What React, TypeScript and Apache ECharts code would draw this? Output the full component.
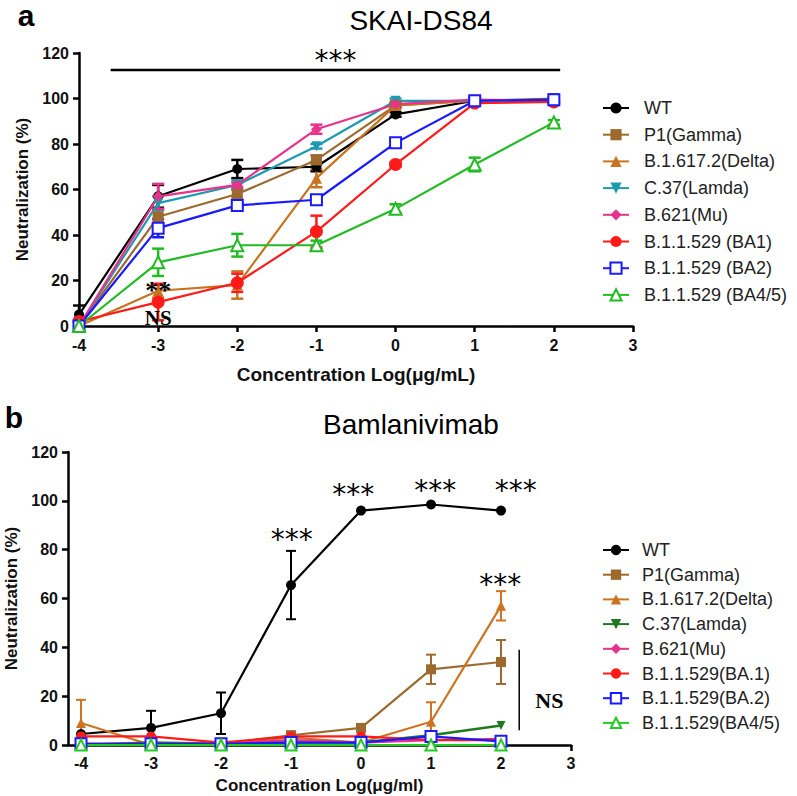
import React, { useEffect, useRef } from 'react';
import * as echarts from 'echarts';

const SANS = '"Liberation Sans", Arial, Helvetica, sans-serif';
const SERIF = '"Liberation Serif", "Times New Roman", serif';

// concentrations (log µg/mL)
const CONC = [-4, -3, -2, -1, 0, 1, 2];
const X_TICKS = [-4, -3, -2, -1, 0, 1, 2, 3];

// ---------- Panel a : SKAI-DS84 ----------
const A_NAMES = ['WT', 'P1(Gamma)', 'B.1.617.2(Delta)', 'C.37(Lamda)', 'B.621(Mu)', 'B.1.1.529 (BA1)', 'B.1.1.529 (BA2)', 'B.1.1.529 (BA4/5)'];
const A_WT = [5, 57, 69, 70, 93, 99, 99];
const A_WT_ERR = [4, 5, 4, 2, 1, 1, 1];
const A_P1 = [0, 48, 58, 73, 97, 99, 100];
const A_P1_ERR = [0, 3, 2, 2, 1, 1, 1];
const A_DELTA = [0, 15.5, 18, 65, 97, 99, 99];
const A_DELTA_ERR = [0, 3, 6, 4, 1, 1, 1];
const A_LAMDA = [0, 54, 62, 79, 99, 99, 99];
const A_LAMDA_ERR = [0, 3, 2, 1, 1, 1, 1];
const A_MU = [0, 57, 62, 86.5, 97.5, 99.5, 99];
const A_MU_ERR = [0, 5.5, 1, 2, 1, 1, 1];
const A_BA1 = [2, 10.5, 19, 41.5, 71, 98, 98.5];
const A_BA1_ERR = [1, 8, 4, 7, 1, 1, 1];
const A_BA2 = [0, 43, 53, 55.5, 80.5, 99, 99.5];
const A_BA2_ERR = [0, 4, 1, 1, 1, 1, 1];
const A_BA45 = [0, 28, 35.5, 35.5, 51.5, 71, 89.5];
const A_BA45_ERR = [0, 6, 5, 2, 2, 3, 1];

// ---------- Panel b : Bamlanivimab ----------
const B_NAMES = ['WT', 'P1(Gamma)', 'B.1.617.2(Delta)', 'C.37(Lamda)', 'B.621(Mu)', 'B.1.1.529(BA.1)', 'B.1.1.529(BA.2)', 'B.1.1.529(BA4/5)'];
const B_WT = [4.5, 7, 13, 65.5, 96, 98.5, 96];
const B_WT_ERR = [0, 7, 8.5, 14, 0, 0, 0];
const B_P1 = [0.5, 0.5, 0.5, 4, 7, 31, 34];
const B_P1_ERR = [0, 0, 0, 1.5, 1, 6, 9];
const B_DELTA = [9, 0, 0.5, 3, 1, 9.5, 57];
const B_DELTA_ERR = [9.5, 0, 0, 1, 0, 8, 6];
const B_LAMDA = [0, 1, 0.5, 1, 1, 4, 8];
const B_MU = [0.5, 0.5, 0.5, 2, 1, 2, 2.5];
const B_BA1 = [3.5, 3.5, 1, 3.5, 3.5, 2, 2];
const B_BA2 = [0.5, 0.5, 0.5, 1, 1, 3.5, 1.5];
const B_BA45 = [0, 0, 0, 0, 0, 0, 0];

// annotations
const A_STAR_X = [-0.76];
const A_STAR_Y = [120];
const A_STAR_TEXT = ['***'];
const A_SIG_LINE = [[-3.6, 112.5, 2.08, 112.5]];
const A_DSTAR_X = [-3];
const A_DSTAR_Y = [17];
const A_DSTAR_TEXT = ['**'];
const A_NS_X = [-3];
const A_NS_Y = [4.8];
const A_NS_TEXT = ['NS'];

const B_STAR_X = [-0.99, -0.11, 1.06, 2.21, 1.99];
const B_STAR_Y = [87.2, 105.3, 107.3, 107.3, 68.4];
const B_STAR_TEXT = ['***', '***', '***', '***', '***'];
const B_NS_LINE = [[2.26, 6, 2.26, 39]];
const B_NOTE_X = [2.69];
const B_NOTE_Y = [18.4];
const B_NOTE_TEXT = ['NS'];

const pts = (vals: number[]) => CONC.map((x, i) => [x, vals[i]]);

function lineSeries(name: string, vals: number[], color: string, symbol: string, size: number, extra: any = {}) {
  const empty = symbol.startsWith('empty');
  return {
    type: 'line',
    name,
    data: pts(vals),
    symbol,
    symbolSize: size,
    symbolRotate: extra.rotate || 0,
    showSymbol: true,
    itemStyle: { color, borderColor: color, borderWidth: empty ? 2.5 : 0 },
    lineStyle: { color, width: extra.lw || 2.2 },
    z: extra.z || 3,
    silent: true,
  };
}

function errSeries(vals: number[], errs: number[], color: string, cap: number, lw: number) {
  const data: number[][] = [];
  CONC.forEach((x, i) => {
    if (errs[i] > 0) data.push([x, vals[i] - errs[i], vals[i] + errs[i]]);
  });
  return {
    type: 'custom',
    silent: true,
    data,
    encode: { x: 0, y: [1, 2] },
    z: 2,
    renderItem: (params: any, api: any) => {
      const x = api.value(0);
      const a = api.coord([x, api.value(1)]);
      const b = api.coord([x, api.value(2)]);
      const st = { stroke: color, lineWidth: lw };
      return {
        type: 'group',
        children: [
          { type: 'line', shape: { x1: a[0], y1: a[1], x2: b[0], y2: b[1] }, style: st },
          { type: 'line', shape: { x1: a[0] - cap, y1: a[1], x2: a[0] + cap, y2: a[1] }, style: st },
          { type: 'line', shape: { x1: b[0] - cap, y1: b[1], x2: b[0] + cap, y2: b[1] }, style: st },
        ],
      };
    },
  };
}

function textSeries(xs: number[], ys: number[], texts: string[], font: string, dy: number) {
  return {
    type: 'custom',
    silent: true,
    data: xs.map((x, i) => [x, ys[i]]),
    encode: { x: 0, y: 1 },
    z: 10,
    renderItem: (params: any, api: any) => {
      const p = api.coord([api.value(0), api.value(1)]);
      return {
        type: 'text',
        x: p[0],
        y: p[1] + dy,
        style: { text: texts[params.dataIndex], font, fill: '#000', align: 'center', verticalAlign: 'middle' },
      };
    },
  };
}

function segSeries(segs: number[][], width: number) {
  return {
    type: 'custom',
    silent: true,
    data: segs,
    encode: { x: [0, 2], y: [1, 3] },
    z: 9,
    renderItem: (params: any, api: any) => {
      const a = api.coord([api.value(0), api.value(1)]);
      const b = api.coord([api.value(2), api.value(3)]);
      return { type: 'line', shape: { x1: a[0], y1: a[1], x2: b[0], y2: b[1] }, style: { stroke: '#000', lineWidth: width } };
    },
  };
}

function axisCommon(labelMargin: number) {
  return {
    axisLine: { show: true, onZero: false, lineStyle: { color: '#000', width: 2.5 } },
    axisTick: { show: true, length: 6, lineStyle: { color: '#000', width: 2.5 } },
    axisLabel: { color: '#111', fontWeight: 'bold', fontSize: 16, fontFamily: SANS, margin: labelMargin },
    splitLine: { show: false },
  };
}

function optionA() {
  const c = { WT: '#000000', P1: '#9C6A2E', Delta: '#C8741E', Lamda: '#1E9AB0', Mu: '#E8338A', BA1: '#FF1A1A', BA2: '#1A1AFF', BA45: '#22BB22' };
  return {
    animation: false,
    grid: { left: 79, top: 53, width: 554, height: 273, containLabel: false, outerBoundsMode: 'none' },
    xAxis: {
      type: 'value', min: -4, max: 3, interval: 1,
      ...axisCommon(11),
      name: 'Concentration Log(\u03bcg/mL)', nameLocation: 'middle', nameGap: 39,
      nameTextStyle: { fontFamily: SANS, fontWeight: 'bold', fontSize: 19, color: '#111' },
    },
    yAxis: {
      type: 'value', min: 0, max: 120, interval: 20,
      ...axisCommon(10),
      name: 'Neutralization (%)', nameLocation: 'middle', nameGap: 41,
      nameTextStyle: { fontFamily: SANS, fontWeight: 'bold', fontSize: 17, color: '#111' },
    },
    legend: {
      orient: 'vertical', left: 602, top: 99, padding: 0,
      itemWidth: 26, itemHeight: 14, itemGap: 8.7,
      textStyle: { fontSize: 18, fontFamily: SANS, color: '#222', lineHeight: 18, padding: [0, 0, 0, 10] },
      data: A_NAMES,
      selectedMode: false,
    },
    graphic: [
      { type: 'text', x: 26, y: 15, style: { text: 'a', font: `bold 30px ${SANS}`, fill: '#000', align: 'center', verticalAlign: 'middle' } },
      { type: 'text', x: 421, y: 20, style: { text: 'SKAI-DS84', font: `28px ${SANS}`, fill: '#000', align: 'center', verticalAlign: 'middle' } },
    ],
    series: [
      errSeries(A_WT, A_WT_ERR, c.WT, 6, 2.5),
      errSeries(A_P1, A_P1_ERR, c.P1, 6, 2.5),
      errSeries(A_DELTA, A_DELTA_ERR, c.Delta, 6, 2.5),
      errSeries(A_LAMDA, A_LAMDA_ERR, c.Lamda, 6, 2.5),
      errSeries(A_MU, A_MU_ERR, c.Mu, 6, 2.5),
      errSeries(A_BA1, A_BA1_ERR, c.BA1, 6, 2.5),
      errSeries(A_BA2, A_BA2_ERR, c.BA2, 6, 2.5),
      errSeries(A_BA45, A_BA45_ERR, c.BA45, 6, 2.5),
      lineSeries(A_NAMES[0], A_WT, c.WT, 'circle', 10),
      lineSeries(A_NAMES[1], A_P1, c.P1, 'rect', 11),
      lineSeries(A_NAMES[2], A_DELTA, c.Delta, 'triangle', 11),
      lineSeries(A_NAMES[3], A_LAMDA, c.Lamda, 'triangle', 10, { rotate: 180 }),
      lineSeries(A_NAMES[4], A_MU, c.Mu, 'diamond', 11),
      lineSeries(A_NAMES[5], A_BA1, c.BA1, 'circle', 13),
      lineSeries(A_NAMES[6], A_BA2, c.BA2, 'emptyRect', 11),
      lineSeries(A_NAMES[7], A_BA45, c.BA45, 'emptyTriangle', 12),
      segSeries(A_SIG_LINE, 2.5),
      textSeries(A_STAR_X, A_STAR_Y, A_STAR_TEXT, `28px "DejaVu Sans", ${SANS}`, 7),
      textSeries(A_DSTAR_X, A_DSTAR_Y, A_DSTAR_TEXT, `bold 26px ${SERIF}`, 3),
      textSeries(A_NS_X, A_NS_Y, A_NS_TEXT, `bold 21px ${SERIF}`, 3),
    ],
  };
}

function optionB() {
  const c = { WT: '#000000', P1: '#9C6A2E', Delta: '#CC7422', Lamda: '#1E7A1E', Mu: '#E8338A', BA1: '#FF1A1A', BA2: '#1A1AFF', BA45: '#22CC22' };
  return {
    animation: false,
    grid: { left: 68, top: 52, width: 503, height: 293, containLabel: false, outerBoundsMode: 'none' },
    xAxis: {
      type: 'value', min: -4.186, max: 3,
      ...axisCommon(10),
      axisTick: { show: true, length: 6, lineStyle: { color: '#000', width: 2.5 }, customValues: X_TICKS },
      axisLabel: { color: '#111', fontWeight: 'bold', fontSize: 16, fontFamily: SANS, margin: 10, customValues: X_TICKS },
      name: 'Concentration Log(\u03bcg/ml)', nameLocation: 'middle', nameGap: 32,
      nameTextStyle: { fontFamily: SANS, fontWeight: 'bold', fontSize: 17, color: '#111' },
    },
    yAxis: {
      type: 'value', min: 0, max: 120, interval: 20,
      ...axisCommon(10),
      name: 'Neutralization (%)', nameLocation: 'middle', nameGap: 46,
      nameTextStyle: { fontFamily: SANS, fontWeight: 'bold', fontSize: 17, color: '#111' },
    },
    legend: {
      orient: 'vertical', left: 602, top: 141, padding: 0,
      itemWidth: 26, itemHeight: 13, itemGap: 6.7,
      textStyle: { fontSize: 18, fontFamily: SANS, color: '#222', lineHeight: 18, padding: [0, 0, 0, 8] },
      data: B_NAMES,
      selectedMode: false,
    },
    graphic: [
      { type: 'text', x: 14, y: 17, style: { text: 'b', font: `bold 30px ${SANS}`, fill: '#000', align: 'center', verticalAlign: 'middle' } },
      { type: 'text', x: 411, y: 24, style: { text: 'Bamlanivimab', font: `28px ${SANS}`, fill: '#000', align: 'center', verticalAlign: 'middle' } },
    ],
    series: [
      errSeries(B_WT, B_WT_ERR, c.WT, 5, 2),
      errSeries(B_P1, B_P1_ERR, c.P1, 5, 2),
      errSeries(B_DELTA, B_DELTA_ERR, c.Delta, 5, 2),
      lineSeries(B_NAMES[0], B_WT, c.WT, 'circle', 10),
      lineSeries(B_NAMES[1], B_P1, c.P1, 'rect', 10),
      lineSeries(B_NAMES[2], B_DELTA, c.Delta, 'triangle', 10),
      lineSeries(B_NAMES[3], B_LAMDA, c.Lamda, 'triangle', 9, { rotate: 180, lw: 2.5 }),
      lineSeries(B_NAMES[4], B_MU, c.Mu, 'diamond', 9),
      lineSeries(B_NAMES[5], B_BA1, c.BA1, 'circle', 10),
      lineSeries(B_NAMES[6], B_BA2, c.BA2, 'emptyRect', 11),
      lineSeries(B_NAMES[7], B_BA45, c.BA45, 'emptyTriangle', 11),
      segSeries(B_NS_LINE, 1.5),
      textSeries(B_STAR_X, B_STAR_Y, B_STAR_TEXT, `28px "DejaVu Sans", ${SANS}`, 7),
      textSeries(B_NOTE_X, B_NOTE_Y, B_NOTE_TEXT, `bold 22px ${SERIF}`, 0),
    ],
  };
}

export default function App() {
  const refA = useRef<HTMLDivElement>(null);
  const refB = useRef<HTMLDivElement>(null);
  useEffect(() => {
    const ca = echarts.init(refA.current!, null, { renderer: 'svg' });
    const cb = echarts.init(refB.current!, null, { renderer: 'svg' });
    ca.setOption(optionA() as any);
    cb.setOption(optionB() as any);
    return () => {
      ca.dispose();
      cb.dispose();
    };
  }, []);
  return (
    <div style={{ position: 'absolute', left: 0, top: 0, width: 797, height: 796, background: '#fff' }}>
      <div ref={refA} style={{ position: 'absolute', left: 0, top: 0, width: 797, height: 400 }} />
      <div ref={refB} style={{ position: 'absolute', left: 0, top: 400, width: 797, height: 396 }} />
    </div>
  );
}
